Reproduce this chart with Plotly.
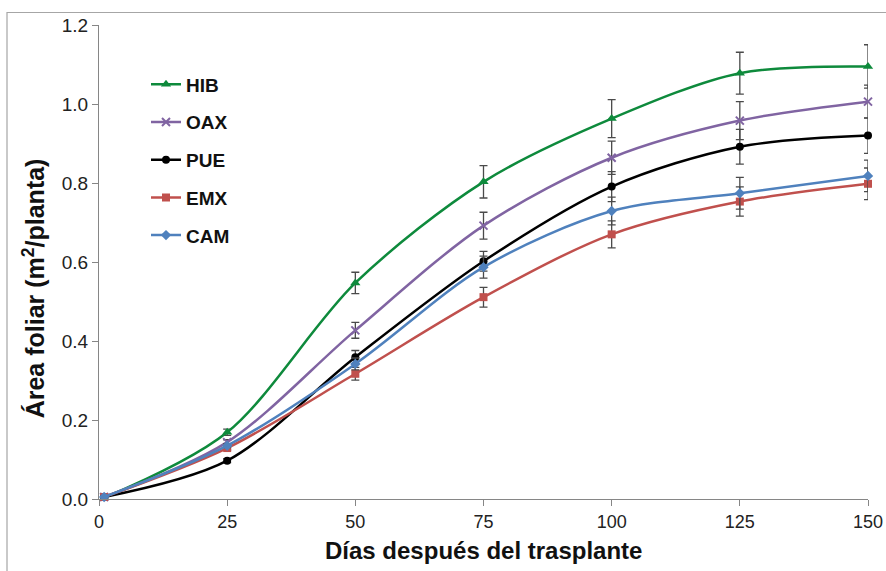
import plotly.graph_objects as go

dias = [1, 25, 50, 75, 100, 125, 150]

series_names = ["HIB", "OAX", "PUE", "EMX", "CAM"]
hib = [0.003, 0.169, 0.547, 0.803, 0.963, 1.078, 1.095]
oax = [0.005, 0.144, 0.427, 0.692, 0.864, 0.958, 1.006]
pue = [0.005, 0.097, 0.359, 0.602, 0.791, 0.892, 0.920]
emx = [0.005, 0.129, 0.317, 0.511, 0.670, 0.753, 0.798]
cam = [0.005, 0.135, 0.342, 0.587, 0.729, 0.774, 0.818]

hib_err = [0.003, 0.008, 0.027, 0.041, 0.048, 0.053, 0.055]
oax_err = [0.003, 0.006, 0.020, 0.034, 0.042, 0.048, 0.042]
pue_err = [0.003, 0.005, 0.017, 0.025, 0.038, 0.044, 0.045]
emx_err = [0.003, 0.005, 0.016, 0.025, 0.034, 0.037, 0.040]
cam_err = [0.003, 0.005, 0.015, 0.028, 0.035, 0.040, 0.040]

colors = ["#0E8A3C", "#8064A2", "#000000", "#C0504D", "#4F81BD"]
symbols = ["triangle-up", "x-thin", "circle", "square", "diamond"]
sizes = [9, 8, 8, 8, 8]

values = [hib, oax, pue, emx, cam]
errors = [hib_err, oax_err, pue_err, emx_err, cam_err]

fig = go.Figure()
for name, vals, errs, col, sym, sz in zip(series_names, values, errors, colors, symbols, sizes):
    marker = dict(symbol=sym, size=sz, color=col)
    if sym == "x-thin":
        marker["line"] = dict(color=col, width=2)
    fig.add_trace(go.Scatter(
        x=dias, y=vals, name=name, mode="lines+markers",
        line=dict(color=col, width=2.5, shape="spline", smoothing=0.9),
        marker=marker,
        error_y=dict(type="data", array=errs, visible=True, color="#4a4a4a",
                     thickness=1.3, width=4),
        cliponaxis=False, legendgroup=name,
    ))

L, R, T, B = 99, 18, 24.5, 72
W, H = 886, 571
pw, ph = W - L - R, H - T - B

def px_x(p):
    return (p - L) / pw

def px_y(p):
    return (H - B - p) / ph

fig.update_layout(
    width=W, height=H,
    margin=dict(l=L, r=R, t=T, b=B),
    paper_bgcolor="white", plot_bgcolor="white",
    font=dict(family="Liberation Sans, Arial, sans-serif", color="#222222"),
    showlegend=True,
    legend=dict(
        x=px_x(146), y=px_y(65), xanchor="left", yanchor="top",
        font=dict(size=19, color="#111111", family="Liberation Sans, Arial, sans-serif", weight="bold"),
        bgcolor="rgba(0,0,0,0)", tracegroupgap=10, itemwidth=30,
    ),
    xaxis=dict(
        range=[0, 150], tickvals=[0, 25, 50, 75, 100, 125, 150],
        showgrid=False, zeroline=False, showline=True, linecolor="#868686", linewidth=1.3,
        ticks="outside", ticklen=6, tickcolor="#868686", tickwidth=1.3,
        tickfont=dict(size=18, color="#222222"),
        automargin=False,
    ),
    yaxis=dict(
        range=[0, 1.2], tickvals=[0, 0.2, 0.4, 0.6, 0.8, 1.0, 1.2], tickformat=".1f",
        showgrid=False, zeroline=False, showline=True, linecolor="#868686", linewidth=1.3,
        ticks="outside", ticklen=6, tickcolor="#868686", tickwidth=1.3,
        tickfont=dict(size=19, color="#222222"),
        automargin=False,
    ),
    annotations=[
        dict(text="<b>Días después del trasplante</b>", xref="paper", yref="paper",
             x=0.5, y=px_y(551), xanchor="center", yanchor="middle", showarrow=False,
             font=dict(size=24, color="#111111")),
        dict(text="<b>Área foliar (m<sup>2</sup>/planta)</b>", xref="paper", yref="paper",
             x=px_x(34), y=px_y(156), xanchor="center", yanchor="top", showarrow=False,
             textangle=-90, font=dict(size=25, color="#111111")),
    ],
    shapes=[dict(type="rect", xref="paper", yref="paper",
                 x0=px_x(7), x1=px_x(895), y0=px_y(580), y1=px_y(12),
                 line=dict(color="#A6A6A6", width=1.2), fillcolor="rgba(0,0,0,0)", layer="below")],
)

fig.write_html("out.html")
